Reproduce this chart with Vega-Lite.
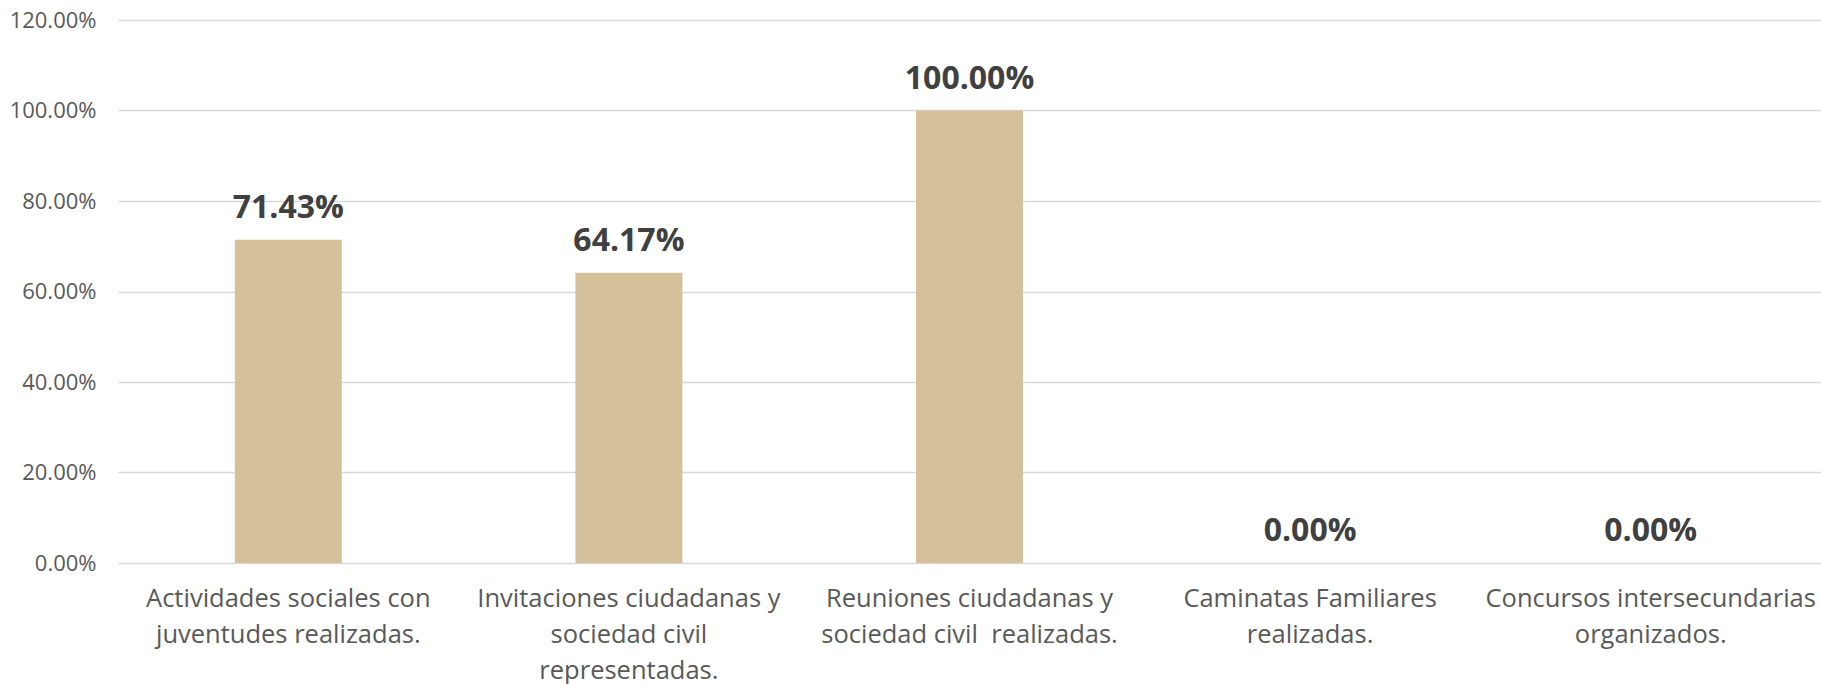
{
  "$schema": "https://vega.github.io/schema/vega-lite/v6.json",
  "width": 1703,
  "height": 543,
  "autosize": {"type": "none"},
  "padding": {"left": 118, "top": 20, "right": 0, "bottom": 121},
  "background": "white",
  "config": {"view": {"stroke": null}, "font": "Open Sans"},
  "data": {
    "values": [
      {"cat": "Actividades sociales con|juventudes realizadas.", "pct": 0.7143},
      {"cat": "Invitaciones ciudadanas y|sociedad civil|representadas.", "pct": 0.6417},
      {"cat": "Reuniones ciudadanas y|sociedad civil\u00a0 realizadas.", "pct": 1.0},
      {"cat": "Caminatas Familiares|realizadas.", "pct": 0.0},
      {"cat": "Concursos intersecundarias|organizados.", "pct": 0.0}
    ]
  },
  "encoding": {
    "x": {
      "field": "cat", "type": "nominal", "sort": null,
      "scale": {"paddingInner": 0.686, "paddingOuter": 0.343},
      "axis": {
        "title": null, "labelAngle": 0, "ticks": false, "domain": false,
        "labelExpr": "split(datum.value, '|')",
        "labelFontSize": 25.5, "labelColor": "#595959", "labelPadding": 23,
        "labelLineHeight": 36, "labelBaseline": "top", "labelLimit": 400
      }
    },
    "y": {
      "field": "pct", "type": "quantitative",
      "scale": {"domain": [0, 1.2], "nice": false},
      "axis": {
        "title": null, "format": ".2%", "values": [0, 0.2, 0.4, 0.6, 0.8, 1.0, 1.2],
        "ticks": false, "domain": false, "labelFontSize": 22, "labelColor": "#595959",
        "labelPadding": 22, "gridColor": "#D9D9D9", "gridWidth": 1.5
      }
    }
  },
  "layer": [
    {"mark": {"type": "bar", "color": "#D4C19C"}},
    {
      "mark": {"type": "text", "baseline": "alphabetic", "dy": -22, "fontSize": 32, "fontWeight": "bold", "color": "#404040"},
      "encoding": {"text": {"field": "pct", "type": "quantitative", "format": ".2%"}}
    }
  ]
}
